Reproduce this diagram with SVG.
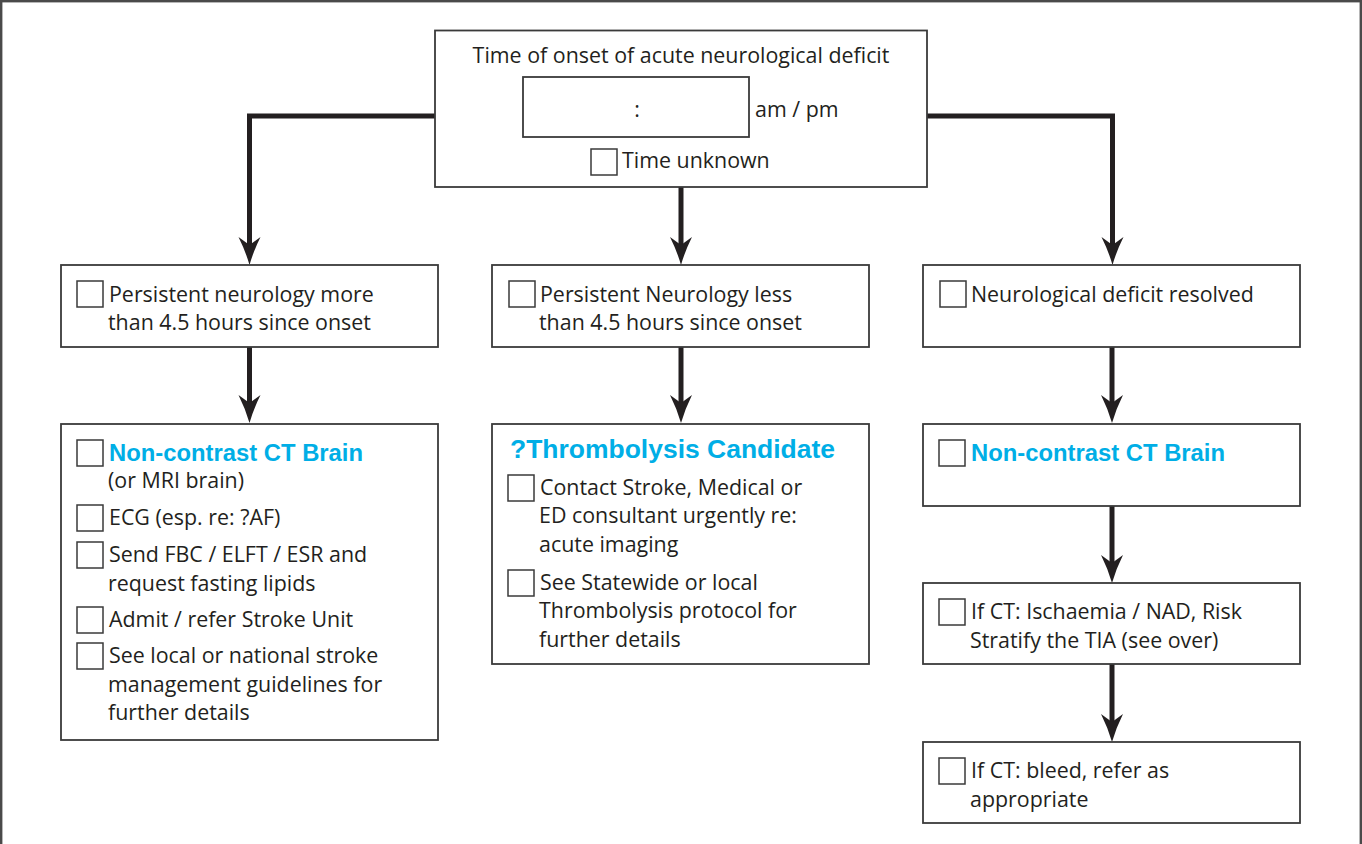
<svg xmlns="http://www.w3.org/2000/svg" width="1362" height="844" viewBox="0 0 1362 844">
<style>
.box{fill:#fff;stroke:#3a3a3a;stroke-width:1.8}
.cb{fill:#fff;stroke:#3a3a3a;stroke-width:1.5}
.t{font-family:"Open Sans","Noto Sans","Liberation Sans",sans-serif;font-size:21.4px;fill:#231f20}
.h{font-family:"Liberation Sans",Arial,sans-serif;font-weight:bold;font-size:23px;fill:#00aee6}
.con{fill:none;stroke:#231f20;stroke-width:5;stroke-linejoin:miter}
</style>
<defs>
<marker id="arr" markerUnits="userSpaceOnUse" viewBox="-30 -12 32 24" markerWidth="32" markerHeight="24" refX="-20" refY="0" orient="auto" overflow="visible">
<path d="M0,0 Q-14,-4 -28,-11 L-20,0 L-28,11 Q-14,4 0,0 Z" fill="#231f20"/>
</marker>
</defs>
<rect x="0" y="0" width="1362" height="844" fill="#fff"/>
<rect x="1.2" y="1.2" width="1359.6" height="900" fill="none" stroke="#4a4a4a" stroke-width="2.4"/>

<g id="connectors">
<path class="con" d="M435,116 H249.5 V245" marker-end="url(#arr)"/>
<path class="con" d="M681,187 V245" marker-end="url(#arr)"/>
<path class="con" d="M927,116 H1112.5 V245" marker-end="url(#arr)"/>
<path class="con" d="M249.5,347 V403" marker-end="url(#arr)"/>
<path class="con" d="M681,347 V403" marker-end="url(#arr)"/>
<path class="con" d="M1112,347 V403" marker-end="url(#arr)"/>
<path class="con" d="M1112,506 V563" marker-end="url(#arr)"/>
<path class="con" d="M1112,664 V722" marker-end="url(#arr)"/>
</g>

<g id="onset">
<rect class="box" x="435" y="30.5" width="492" height="156.5"/>
<text class="t" x="681" y="63" text-anchor="middle">Time of onset of acute neurological deficit</text>
<rect class="box" x="523" y="77" width="226" height="60"/>
<text class="t" x="637" y="117" text-anchor="middle">:</text>
<text class="t" x="755" y="117">am / pm</text>
<rect class="cb" x="591" y="149" width="26" height="26"/>
<text class="t" x="622" y="168">Time unknown</text>
</g>

<g id="more45">
<rect class="box" x="61" y="265" width="377" height="82"/>
<rect class="cb" x="77" y="281" width="26" height="26"/>
<text class="t" x="109" y="302">Persistent neurology more</text>
<text class="t" x="108" y="330">than 4.5 hours since onset</text>
</g>

<g id="less45">
<rect class="box" x="492" y="265" width="377" height="82"/>
<rect class="cb" x="509" y="281" width="26" height="26"/>
<text class="t" x="540" y="302">Persistent Neurology less</text>
<text class="t" x="539" y="330">than 4.5 hours since onset</text>
</g>

<g id="resolved">
<rect class="box" x="923" y="265" width="377" height="82"/>
<rect class="cb" x="940" y="281" width="26" height="26"/>
<text class="t" x="971" y="302">Neurological deficit resolved</text>
</g>

<g id="ct-left">
<rect class="box" x="61" y="424" width="377" height="316"/>
<rect class="cb" x="77" y="440" width="26" height="26"/>
<text class="h" x="109" y="461" textLength="254" lengthAdjust="spacingAndGlyphs">Non-contrast CT Brain</text>
<text class="t" x="108" y="488">(or MRI brain)</text>
<rect class="cb" x="77" y="505" width="26" height="26"/>
<text class="t" x="109" y="525">ECG (esp. re: ?AF)</text>
<rect class="cb" x="77" y="542" width="26" height="26"/>
<text class="t" x="109" y="562">Send FBC / ELFT / ESR and</text>
<text class="t" x="108" y="591">request fasting lipids</text>
<rect class="cb" x="77" y="607" width="26" height="26"/>
<text class="t" x="109" y="627">Admit / refer Stroke Unit</text>
<rect class="cb" x="77" y="643" width="26" height="26"/>
<text class="t" x="109" y="663">See local or national stroke</text>
<text class="t" x="108" y="692">management guidelines for</text>
<text class="t" x="108" y="720">further details</text>
</g>

<g id="thrombolysis">
<rect class="box" x="492" y="424" width="377" height="240"/>
<text class="h" x="510" y="458" style="font-size:25px" textLength="325" lengthAdjust="spacingAndGlyphs">?Thrombolysis Candidate</text>
<rect class="cb" x="508" y="475" width="26" height="26"/>
<text class="t" x="540" y="495">Contact Stroke, Medical or</text>
<text class="t" x="539" y="523">ED consultant urgently re:</text>
<text class="t" x="539" y="552">acute imaging</text>
<rect class="cb" x="508" y="570" width="26" height="26"/>
<text class="t" x="540" y="590">See Statewide or local</text>
<text class="t" x="539" y="618">Thrombolysis protocol for</text>
<text class="t" x="539" y="647">further details</text>
</g>

<g id="ct-right">
<rect class="box" x="923" y="424" width="377" height="82"/>
<rect class="cb" x="939" y="440" width="26" height="26"/>
<text class="h" x="971" y="461" textLength="254" lengthAdjust="spacingAndGlyphs">Non-contrast CT Brain</text>
</g>

<g id="ischaemia">
<rect class="box" x="923" y="583" width="377" height="81"/>
<rect class="cb" x="939" y="599" width="26" height="26"/>
<text class="t" x="971" y="619">If CT: Ischaemia / NAD, Risk</text>
<text class="t" x="970" y="648">Stratify the TIA (see over)</text>
</g>

<g id="bleed">
<rect class="box" x="923" y="742" width="377" height="81"/>
<rect class="cb" x="939" y="758" width="26" height="26"/>
<text class="t" x="971" y="778">If CT: bleed, refer as</text>
<text class="t" x="970" y="807">appropriate</text>
</g>
</svg>
